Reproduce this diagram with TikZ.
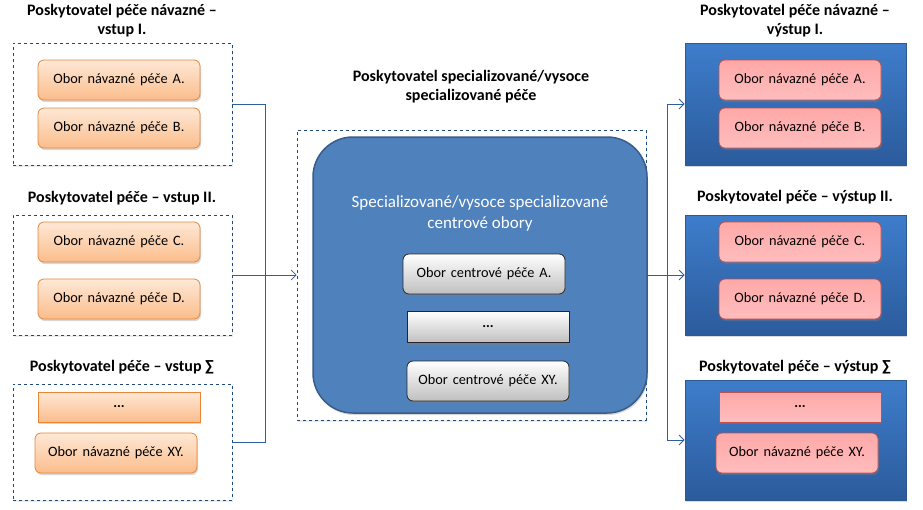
\documentclass[tikz,border=0pt]{standalone}
\usepackage{fontspec}
\setmainfont{Carlito}
\newfontfamily\nodefont{Carlito}[WordSpace=1.5]
\usetikzlibrary{shadows,arrows.meta}
\definecolor{orbd}{HTML}{E7873A}
\definecolor{ortop}{HTML}{FEE8D6}
\definecolor{orbot}{HTML}{FBBD8B}
\definecolor{pkbd}{HTML}{C0504D}
\definecolor{pktop}{HTML}{FFA8A8}
\definecolor{pkmid}{HTML}{FFDADA}
\definecolor{pkbot}{HTML}{FFBDBD}
\definecolor{bltop}{HTML}{3E7DCB}
\definecolor{blbot}{HTML}{2B5B9C}
\definecolor{blbd}{HTML}{2F5A8F}
\definecolor{ctrfill}{HTML}{4F81BD}
\definecolor{ctrbd}{HTML}{385D8A}
\definecolor{dashc}{HTML}{1F497D}
\definecolor{conc}{HTML}{2E5E9E}
\tikzset{
  x=1pt,y=-1pt,
  ttl/.style={font=\fontsize{16}{19}\selectfont\bfseries,align=center,text=black},
  dbox/.style={draw=dashc,dashed,line width=0.6pt,fill=white,drop shadow={shadow xshift=1pt,shadow yshift=-1.5pt,opacity=0.15}},
  bbox/.style={draw=blbd,line width=0.8pt,top color=bltop,bottom color=blbot,drop shadow={shadow xshift=1pt,shadow yshift=-2pt,opacity=0.3}},
  txt/.style={font=\nodefont\fontsize{14.3}{16}\selectfont,text=black},
  orn/.style={txt,draw=orbd,line width=0.8pt,top color=ortop,bottom color=orbot,rounded corners=6pt,minimum width=162pt,minimum height=40pt,drop shadow={shadow xshift=1pt,shadow yshift=-2pt,opacity=0.3}},
  ornr/.style={orn,rounded corners=0pt,minimum height=30pt},
  pkn/.style={txt,draw=pkbd,line width=0.8pt,top color=pktop,middle color=pkmid,bottom color=pkbot,rounded corners=6pt,minimum width=162pt,minimum height=40pt,drop shadow={shadow xshift=1pt,shadow yshift=-2pt,opacity=0.35}},
  pknr/.style={pkn,rounded corners=0pt,minimum height=30pt},
  grn/.style={txt,draw=black!85,line width=0.8pt,top color=white,bottom color=black!25,rounded corners=6pt,minimum width=162pt,minimum height=40pt,drop shadow={shadow xshift=1pt,shadow yshift=-2pt,opacity=0.35}},
  grnr/.style={grn,rounded corners=0pt,minimum height=31pt},
  con/.style={draw=conc,line width=0.8pt},
  arr/.style={con,-{Straight Barb[length=5pt,width=10pt]}},
}
\begin{document}
\begin{tikzpicture}
\useasboundingbox (0,0) rectangle (923,509);
% left input boxes
\node[dbox,minimum width=219pt,minimum height=122pt] (in1) at (122.5,104) {};
\node[dbox,minimum width=219pt,minimum height=120pt] (in2) at (122.5,275) {};
\node[dbox,minimum width=219pt,minimum height=116pt] (in3) at (122.5,442) {};
\node[ttl] (t1) at (122,21) {Poskytovatel péče návazné –\\vstup I.};
\node[ttl] (t2) at (122,198) {Poskytovatel péče – vstup II.};
\node[ttl] (t3) at (122,367) {Poskytovatel péče – vstup ∑};
\node[orn] (oa) at (119,80) {Obor návazné péče A.};
\node[orn] (ob) at (119,128) {Obor návazné péče B.};
\node[orn] (oc) at (119,242) {Obor návazné péče C.};
\node[orn] (od) at (119,299) {Obor návazné péče D.};
\node[ornr] (oe) at (119,407) {\bfseries ...};
\node[orn] (of) at (116,453) {Obor návazné péče XY.};
% centre
\node[ttl] (tc) at (471,87) {Poskytovatel specializované/vysoce\\specializované péče};
\node[dbox,minimum width=349pt,minimum height=290pt] (ctr) at (471.5,275) {};
\node[draw=ctrbd,line width=1.5pt,fill=ctrfill,rounded corners=40pt,minimum width=334pt,minimum height=276pt,drop shadow={shadow xshift=1pt,shadow yshift=-2pt,opacity=0.3}] (cr) at (480,275) {};
\node[font=\fontsize{17}{21}\selectfont,text=white,align=center] (ct) at (480,213) {Specializované/vysoce specializované\\centrové obory};
\node[grn] (ga) at (484,274) {Obor centrové péče A.};
\node[grnr] (gb) at (488,327) {\bfseries ...};
\node[grn] (gc) at (488,381) {Obor centrové péče XY.};
% right output boxes
\node[bbox,minimum width=221pt,minimum height=122pt] (out1) at (795.5,104) {};
\node[bbox,minimum width=221pt,minimum height=120pt] (out2) at (795.5,275) {};
\node[bbox,minimum width=221pt,minimum height=120pt] (out3) at (795.5,440) {};
\node[ttl] (u1) at (795,21) {Poskytovatel péče návazné –\\výstup I.};
\node[ttl] (u2) at (795,197) {Poskytovatel péče – výstup II.};
\node[ttl] (u3) at (795,367) {Poskytovatel péče – výstup ∑};
\node[pkn] (pa) at (800,80) {Obor návazné péče A.};
\node[pkn] (pb) at (800,128) {Obor návazné péče B.};
\node[pkn] (pc) at (800,242) {Obor návazné péče C.};
\node[pkn] (pd) at (800,299) {Obor návazné péče D.};
\node[pknr] (pe) at (800,407) {\bfseries ...};
\node[pkn] (pf) at (797,453) {Obor návazné péče XY.};
% connectors
\coordinate (jL) at (265,275);
\coordinate (jR) at (667,275);
\draw[con] (in1.east) -| (jL);
\draw[con] (in3.east) -| (jL);
\draw[con] (in2.east) -- (jL);
\draw[arr] (jL) -- (ctr.west);
\draw[con] (ctr.east) -- (jR);
\draw[arr] (jR) |- (out1.west);
\draw[arr] (jR) -- (out2.west);
\draw[arr] (jR) |- (out3.west);
\end{tikzpicture}
\end{document}
